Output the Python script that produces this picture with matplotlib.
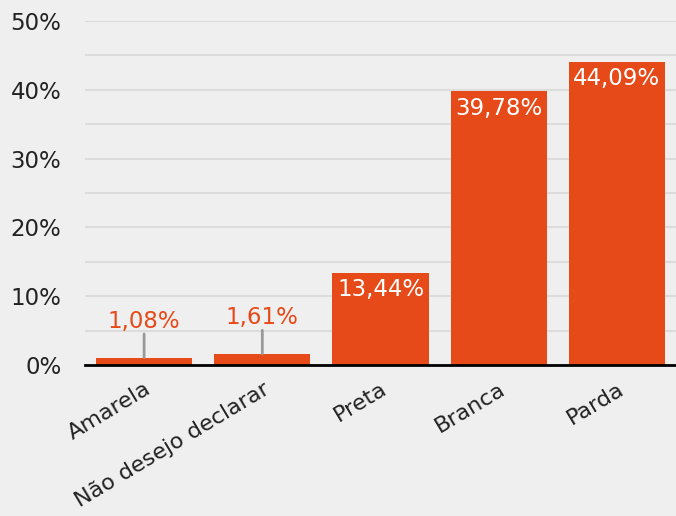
import matplotlib
matplotlib.use("Agg")
import matplotlib.pyplot as plt
import numpy as np

categories = ["Amarela", "Não desejo declarar", "Preta", "Branca", "Parda"]
values = [1.08, 1.61, 13.44, 39.78, 44.09]
labels = ["1,08%", "1,61%", "13,44%", "39,78%", "44,09%"]
yticks = [0, 10, 20, 30, 40, 50]
ytick_labels = ["0%", "10%", "20%", "30%", "40%", "50%"]

plt.rcParams['font.family'] = ['DejaVu Sans']
bg = "#efefef"
bar_color = "#e64a19"
fs = 16.5

fig = plt.figure(figsize=(6.76, 5.16), dpi=100, facecolor=bg)
ax = fig.add_axes([85/676, (516-365)/516, 1 - 85/676, (365-21)/516])
ax.set_facecolor(bg)

x = np.arange(len(categories))
ax.bar(x, values, width=0.815, color=bar_color, zorder=3)

ax.set_xlim(-0.5, len(categories) - 0.5)
ax.set_ylim(0, 50)
ax.set_yticks(yticks)
ax.set_yticklabels(ytick_labels, fontsize=fs, color="#222222")
ax.set_yticks(np.arange(5, 50, 10), minor=True)
ax.grid(True, which="both", axis="y", color="#dcdcdc", linewidth=1.5, zorder=0)
ax.tick_params(axis="y", which="both", length=0, pad=17)
ax.tick_params(axis="x", length=0, pad=10)
ax.set_xticks(x)
ax.set_xticklabels(categories, rotation=31, ha="right", rotation_mode="anchor",
                   fontsize=16, color="#222222")
for s in ["top", "right", "left"]:
    ax.spines[s].set_visible(False)
ax.spines["bottom"].set_color("#000000")
ax.spines["bottom"].set_linewidth(2)
ax.spines["bottom"].set_zorder(4)

for xi, v, lab in zip(x, values, labels):
    if v < 5:
        ax.annotate("", xy=(xi, v), xytext=(0, 17), textcoords="offset points",
                    arrowprops=dict(arrowstyle="-", color="#999999", lw=2,
                                    shrinkA=0, shrinkB=0), zorder=4)
        ax.annotate(lab, xy=(xi, v), xytext=(0, 18), textcoords="offset points",
                    ha="center", va="bottom", fontsize=fs, color=bar_color)
    else:
        ax.annotate(lab, xy=(xi, v), xytext=(0, -4), textcoords="offset points",
                    ha="center", va="top", fontsize=fs, color="white", zorder=5)

fig.savefig("out.png", dpi=100, facecolor=bg)
